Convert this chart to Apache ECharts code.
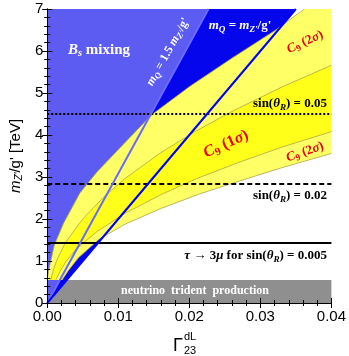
<!DOCTYPE html>
<html>
<head>
<meta charset="utf-8">
<script src="https://cdn.jsdelivr.net/npm/echarts/dist/echarts.min.js"></script>
<style>
html, body { margin: 0; padding: 0; background: #fff; }
#main { width: 349px; height: 356px; }
</style>
</head>
<body>
<div id="main"></div>
<script>
var SERIF = '"Liberation Serif", "DejaVu Serif", serif';
var SANS = '"Liberation Sans", Arial, sans-serif';

// axis ranges / ticks
var xRange = [0, 0.04];
var yRange = [0, 7];
var xStep = 0.01;
var yStep = 1;

// m_Q lines  [Gamma, m_Z'/g']
var lightLine = [[0, 0], [0.0227, 7]];   // m_Q = 1.5 m_Z'/g'
var darkLine = [[0, 0], [0.035, 7]];     // m_Q = m_Z'/g'

// C9 band edges
var c9Upper2s = [[0, 0.55], [0.0002, 0.78], [0.0005, 1.0], [0.001, 1.38], [0.0023, 1.9], [0.0046, 2.62],
    [0.007, 3.12], [0.011, 3.83], [0.0147, 4.48], [0.020, 5.15], [0.026, 5.83], [0.032, 6.48], [0.0362, 7.0]];
var c9Upper1s = [[0.0005, 0.55], [0.0008, 0.75], [0.0013, 1.0], [0.0025, 1.42], [0.005, 2.0], [0.008, 2.53],
    [0.011, 2.97], [0.016, 3.58], [0.021, 4.1], [0.026, 4.56], [0.033, 5.14], [0.04, 5.66]];
var c9Lower1s = [[0.0012, 0.55], [0.0018, 0.75], [0.0026, 0.98], [0.004, 1.27], [0.007, 1.7], [0.011, 2.14],
    [0.016, 2.58], [0.021, 2.96], [0.027, 3.35], [0.033, 3.71], [0.04, 4.08]];
var c9Lower2s = [[0.0021, 0.55], [0.003, 0.78], [0.0044, 1.08], [0.0073, 1.52], [0.011, 1.88], [0.016, 2.25],
    [0.0215, 2.6], [0.0266, 2.88], [0.033, 3.22], [0.04, 3.56]];

// horizontal limits
var tridentLimit = 0.55;
var sin005 = 4.5;
var sin002 = 2.85;
var tau3mu = 1.43;

var myChart = echarts.init(document.getElementById('main'));

function polygonSeries(pts, fill, z) {
    return {
        type: 'custom',
        silent: true,
        z: z,
        clip: true,
        data: [[0, 0]],
        renderItem: function (params, api) {
            return {
                type: 'polygon',
                shape: { points: pts.map(function (p) { return api.coord(p); }) },
                style: { fill: fill }
            };
        }
    };
}

function curveSeries(pts) {
    return {
        type: 'line', data: pts, symbol: 'none', silent: true, z: 4,
        lineStyle: { color: '#a9a845', width: 0.8 }
    };
}

function richSet(size, color, bold) {
    var w = bold ? 'bold' : 'normal';
    return {
        r: { fontFamily: SERIF, fontSize: size, fill: color, fontWeight: w },
        i: { fontFamily: SERIF, fontSize: size, fill: color, fontWeight: w, fontStyle: 'italic' },
        s: { fontFamily: SERIF, fontSize: size * 0.7, fill: color, fontWeight: w, fontStyle: 'italic', padding: [size * 0.5, 0, 0, 0] },
        sr: { fontFamily: SERIF, fontSize: size * 0.7, fill: color, fontWeight: w, padding: [size * 0.5, 0, 0, 0] }
    };
}

function label(x, y, text, size, color, bold, align, rot) {
    return {
        type: 'text', x: x, y: y, z: 100, silent: true,
        rotation: (rot || 0) * Math.PI / 180,
        style: {
            text: text, rich: richSet(size, color, bold), fill: color,
            align: align || 'center', verticalAlign: 'middle'
        }
    };
}

var yellow2s = c9Upper2s.concat([[xRange[1], yRange[1]]], c9Lower2s.slice().reverse());
var yellow1s = c9Upper1s.concat(c9Lower1s.slice().reverse());
var lightWedge = [lightLine[0], [0, yRange[1]], lightLine[1]];
var darkWedge = [lightLine[0], lightLine[1], darkLine[1]];

var axisCommon = {
    type: 'value',
    z: 20,
    axisLine: { show: true, lineStyle: { color: '#000', width: 1 } },
    axisTick: { show: true, inside: true, length: 5, lineStyle: { color: '#000' } },
    minorTick: { show: true, splitNumber: 5, length: 3, lineStyle: { color: '#000' } },
    splitLine: { show: false }
};

var option = {
    animation: false,
    grid: { left: 39, right: 16, top: 9, bottom: 53 },
    xAxis: [
        Object.assign({}, axisCommon, {
            min: xRange[0], max: xRange[1], interval: xStep, position: 'bottom',
            axisLabel: { fontFamily: SANS, fontSize: 15, color: '#000', margin: 6,
                formatter: function (v) { return v.toFixed(2); } }
        }),
        Object.assign({}, axisCommon, {
            min: xRange[0], max: xRange[1], interval: xStep, position: 'top',
            axisLabel: { show: false }
        })
    ],
    yAxis: [
        Object.assign({}, axisCommon, {
            min: yRange[0], max: yRange[1], interval: yStep, position: 'left',
            axisLabel: { fontFamily: SANS, fontSize: 15, color: '#000', margin: 4 },
            name: '{i|m}{s|Z\'}{r|/g\' [TeV]}',
            nameLocation: 'middle', nameGap: 18, nameRotate: 90,
            nameTextStyle: {
                rich: {
                    r: { fontFamily: SANS, fontSize: 15, color: '#000' },
                    i: { fontFamily: SANS, fontSize: 15, color: '#000', fontStyle: 'italic' },
                    s: { fontFamily: SANS, fontSize: 10, color: '#000', fontStyle: 'italic', padding: [7, 0, 0, 0] }
                }
            }
        }),
        Object.assign({}, axisCommon, {
            min: yRange[0], max: yRange[1], interval: yStep, position: 'right',
            axisLabel: { show: false }
        })
    ],
    series: [
        polygonSeries(lightWedge, '#5c5cf2', 1),
        polygonSeries(darkWedge, '#0606ec', 1),
        polygonSeries(yellow2s, '#ffff66', 2),
        polygonSeries(yellow1s, '#ffff1a', 3),
        curveSeries(c9Upper2s),
        curveSeries(c9Upper1s),
        curveSeries(c9Lower1s),
        curveSeries(c9Lower2s),
        {
            type: 'line', data: [], z: 5, silent: true,
            markArea: {
                silent: true,
                itemStyle: { color: '#8f8f8f' },
                data: [[{ xAxis: xRange[0], yAxis: 0 }, { xAxis: xRange[1], yAxis: tridentLimit }]]
            },
            markLine: {
                silent: true, symbol: 'none', label: { show: false },
                lineStyle: { color: '#000', width: 2 },
                data: [
                    { yAxis: sin005, lineStyle: { type: [2, 2], width: 2 } },
                    { yAxis: sin002, lineStyle: { type: [5, 3], width: 2 } },
                    { yAxis: tau3mu, lineStyle: { type: 'solid', width: 2 } }
                ]
            }
        },
        { type: 'line', data: lightLine, symbol: 'none', silent: true, z: 6,
          lineStyle: { color: '#6a6aff', width: 2 } },
        { type: 'line', data: darkLine, symbol: 'none', silent: true, z: 6,
          lineStyle: { color: '#0000ff', width: 2 } }
    ],
    graphic: [
        label(68, 50, '{i|B}{s|s}{r| mixing}', 15, '#fff', true, 'left'),
        label(168, 52, '{i|m}{s|Q}{r| = 1.5 }{i|m}{s|Z\'}{r|/g\'}', 12, '#fff', true, 'center', 61),
        label(240, 26, '{i|m}{s|Q}{r| = }{i|m}{s|Z\'}{r|/g\'}', 13, '#fff', true, 'center'),
        label(305, 42, '{i|C}{sr|9}{r| (2}{i|σ}{r|)}', 13, '#e8000f', true, 'center', 25),
        label(226, 144, '{i|C}{sr|9}{r| (1}{i|σ}{r|)}', 16, '#e8000f', true, 'center', 24),
        label(305, 152, '{i|C}{sr|9}{r| (2}{i|σ}{r|)}', 13, '#e8000f', true, 'center', 19),
        label(327, 104, '{r|sin(}{i|θ}{s|R}{r|) = 0.05}', 13, '#000', true, 'right'),
        label(327, 196, '{r|sin(}{i|θ}{s|R}{r|) = 0.02}', 13, '#000', true, 'right'),
        label(327, 256, '{i|τ}{r| → 3}{i|μ}{r| for sin(}{i|θ}{s|R}{r|) = 0.005}', 13, '#000', true, 'right'),
        label(195, 291, '{r|neutrino  trident  production}', 12, '#fff', true, 'center'),
        { type: 'text', x: 178, y: 346, z: 100, silent: true,
          style: { text: 'Γ', fontFamily: SANS, fontSize: 18, fill: '#000', align: 'center', verticalAlign: 'middle' } },
        { type: 'text', x: 184, y: 337, z: 100, silent: true,
          style: { text: 'dL', fontFamily: SANS, fontSize: 11, fill: '#000', align: 'left', verticalAlign: 'middle' } },
        { type: 'text', x: 184, y: 351, z: 100, silent: true,
          style: { text: '23', fontFamily: SANS, fontSize: 11, fill: '#000', align: 'left', verticalAlign: 'middle' } }
    ]
};

myChart.setOption(option);
</script>
</body>
</html>
